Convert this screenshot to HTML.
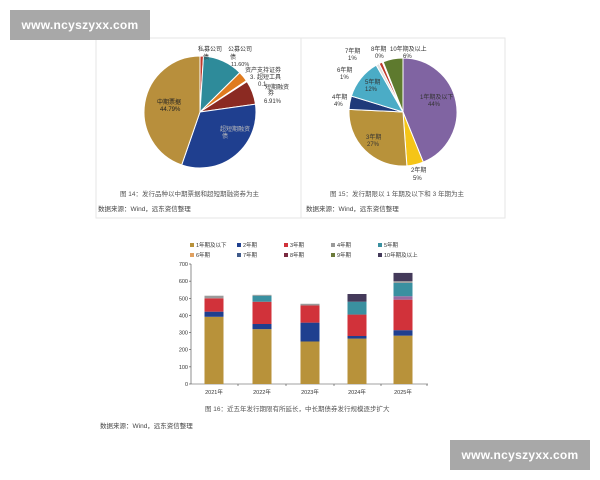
<!DOCTYPE html>
<html><head><meta charset="utf-8"><style>
html,body{margin:0;padding:0;background:#fff;width:600px;height:480px;overflow:hidden}
svg{display:block;font-family:"Liberation Sans","Noto Sans CJK SC",sans-serif}
.wm{position:absolute;background:#a8a8a8;color:#fff;font:bold 12px "Liberation Sans",sans-serif;letter-spacing:0.3px;text-align:center;line-height:30px;width:140px;height:30px}
</style></head><body>
<svg id="s" width="600" height="480" viewBox="0 0 600 480">
<rect x="96" y="38" width="409" height="180" fill="none" stroke="#e6e6e6"/>
<line x1="301" y1="38" x2="301" y2="218" stroke="#e6e6e6"/>
<g id="p1"></g><g id="p2"></g><g id="bars"></g>
<g font-size="6" fill="#333">
<text x="198" y="51">私募公司</text><text x="203" y="59">债</text>
<text x="228" y="51">公募公司</text><text x="230" y="59">债</text><text x="231" y="66" font-size="5.5">11.60%</text>
<text x="245" y="72">资产支持证券</text><text x="250" y="79">3.</text><text x="257" y="79">超短工具</text>
<text x="258" y="86">0.1</text><text x="265" y="89">短期融资</text><text x="268" y="95">券</text><text x="264" y="103">6.91%</text>
<text x="157" y="104" fill="#222">中期票据</text><text x="160" y="111" fill="#222">44.79%</text>
<text x="220" y="131" fill="#bbb">超短期融资</text><text x="222" y="138" fill="#bbb">债</text>
<text x="345" y="53">7年期</text><text x="348" y="60">1%</text>
<text x="371" y="51">8年期</text><text x="375" y="58">0%</text>
<text x="390" y="51">10年期及以上</text><text x="403" y="58">6%</text>
<text x="337" y="72">6年期</text><text x="340" y="79">1%</text>
<text x="365" y="84">5年期</text><text x="365" y="91">12%</text>
<text x="332" y="99">4年期</text><text x="334" y="106">4%</text>
<text x="420" y="99">1年期及以下</text><text x="428" y="106">44%</text>
<text x="366" y="139">3年期</text><text x="367" y="146">27%</text>
<text x="411" y="172">2年期</text><text x="413" y="180">5%</text>
<text x="120" y="196" font-size="6.5" fill="#555">图 14：发行品种以中期票据和超短期融资券为主</text>
<text x="98" y="211" font-size="6.5" fill="#444">数据来源：Wind，远东资信整理</text>
<text x="330" y="196" font-size="6.5" fill="#555">图 15：发行期限以 1 年期及以下和 3 年期为主</text>
<text x="306" y="211" font-size="6.5" fill="#444">数据来源：Wind，远东资信整理</text>
<text x="205" y="411" font-size="6.5" fill="#555">图 16：近五年发行期限有所延长，中长期债券发行规模逐步扩大</text>
<text x="100" y="428" font-size="6.5" fill="#444">数据来源：Wind，远东资信整理</text>
</g>
</svg>
<div class="wm" style="left:10px;top:10px">www.ncyszyxx.com</div>
<div class="wm" style="left:450px;top:440px">www.ncyszyxx.com</div>
<script>
function pie(g,cx,cy,r,data){let a=-Math.PI/2,h='';const tot=data.reduce((s,d)=>s+d[0],0);
for(const [v,c] of data){const b=a+v/tot*2*Math.PI;const x1=cx+r*Math.cos(a),y1=cy+r*Math.sin(a),x2=cx+r*Math.cos(b),y2=cy+r*Math.sin(b);
h+=`<path d="M${cx},${cy}L${x1.toFixed(2)},${y1.toFixed(2)}A${r},${r} 0 ${b-a>Math.PI?1:0} 1 ${x2.toFixed(2)},${y2.toFixed(2)}Z" fill="${c}" stroke="#fff" stroke-width="1"/>`;a=b;}
document.getElementById(g).innerHTML=h;}
pie('p1',200,112,56,[[1,'#c0392b'],[11.6,'#2e8b9a'],[3,'#e07b1f'],[0.3,'#888'],[6.91,'#8b2a22'],[32.6,'#1f3f8f'],[44.79,'#b88f3c']]);
pie('p2',403,112,54,[[44,'#8064a2'],[5,'#f5c518'],[27,'#b8923a'],[4,'#1f3a7a'],[12,'#4bacc6'],[1,'#e0e0e0'],[1,'#c0392b'],[0.3,'#888'],[6,'#5e7a2e']]);
const C={y1:'#b8923a',y2:'#1f3f8f',y3:'#d1323a',y4:'#9a9a9a',y5:'#3a90a0',y6:'#e0a060',y7:'#3f5a8a',y8:'#7a2a40',y9:'#6b7a3a',y10:'#443a5a',p:'#9a6aa0'};
let h='';const y0=384,k=120/700;
for(let i=0;i<=7;i++){const y=y0-i*100*k;h+=`<text x="188" y="${y+2}" font-size="5.5" text-anchor="end" fill="#333">${i*100}</text><line x1="189" y1="${y}" x2="191" y2="${y}" stroke="#444" stroke-width=".6"/>`;}
h+=`<line x1="191" y1="264" x2="191" y2="${y0}" stroke="#444" stroke-width=".6"/><line x1="191" y1="${y0}" x2="428" y2="${y0}" stroke="#444" stroke-width=".6"/>`;
const B=[[214,'2021年',[[392,'y1'],[30,'y2'],[78,'y3'],[15,'y4']]],[262,'2022年',[[320,'y1'],[30,'y2'],[130,'y3'],[35,'y5'],[5,'y4']]],[310,'2023年',[[248,'y1'],[110,'y2'],[100,'y3'],[10,'y4']]],[357,'2024年',[[265,'y1'],[15,'y2'],[125,'y3'],[75,'y5'],[45,'y10']]],[403,'2025年',[[282,'y1'],[32,'y2'],[178,'y3'],[20,'p'],[78,'y5'],[10,'y4'],[48,'y10']]]];
for(const [x,l,s] of B){let c=0;for(const [v,col] of s){h+=`<rect x="${x-9.5}" y="${(y0-(c+v)*k).toFixed(2)}" width="19" height="${(v*k).toFixed(2)}" fill="${C[col]}"/>`;c+=v;}
h+=`<text x="${x}" y="${y0+10}" font-size="5.5" text-anchor="middle" fill="#333">${l}</text><line x1="${x+24}" y1="${y0}" x2="${x+24}" y2="${y0+2}" stroke="#444" stroke-width=".6"/>`;}
const L=[['1年期及以下','y1'],['2年期','y2'],['3年期','y3'],['4年期','y4'],['5年期','y5'],['6年期','y6'],['7年期','y7'],['8年期','y8'],['9年期','y9'],['10年期及以上','y10']];
L.forEach((e,i)=>{const x=190+(i%5)*47,y=i<5?247:257;h+=`<rect x="${x}" y="${y-4}" width="4" height="4" fill="${C[e[1]]}"/><text x="${x+6}" y="${y}" font-size="5.5" fill="#333">${e[0]}</text>`;});
document.getElementById('bars').innerHTML=h;
</script>
</body></html>
